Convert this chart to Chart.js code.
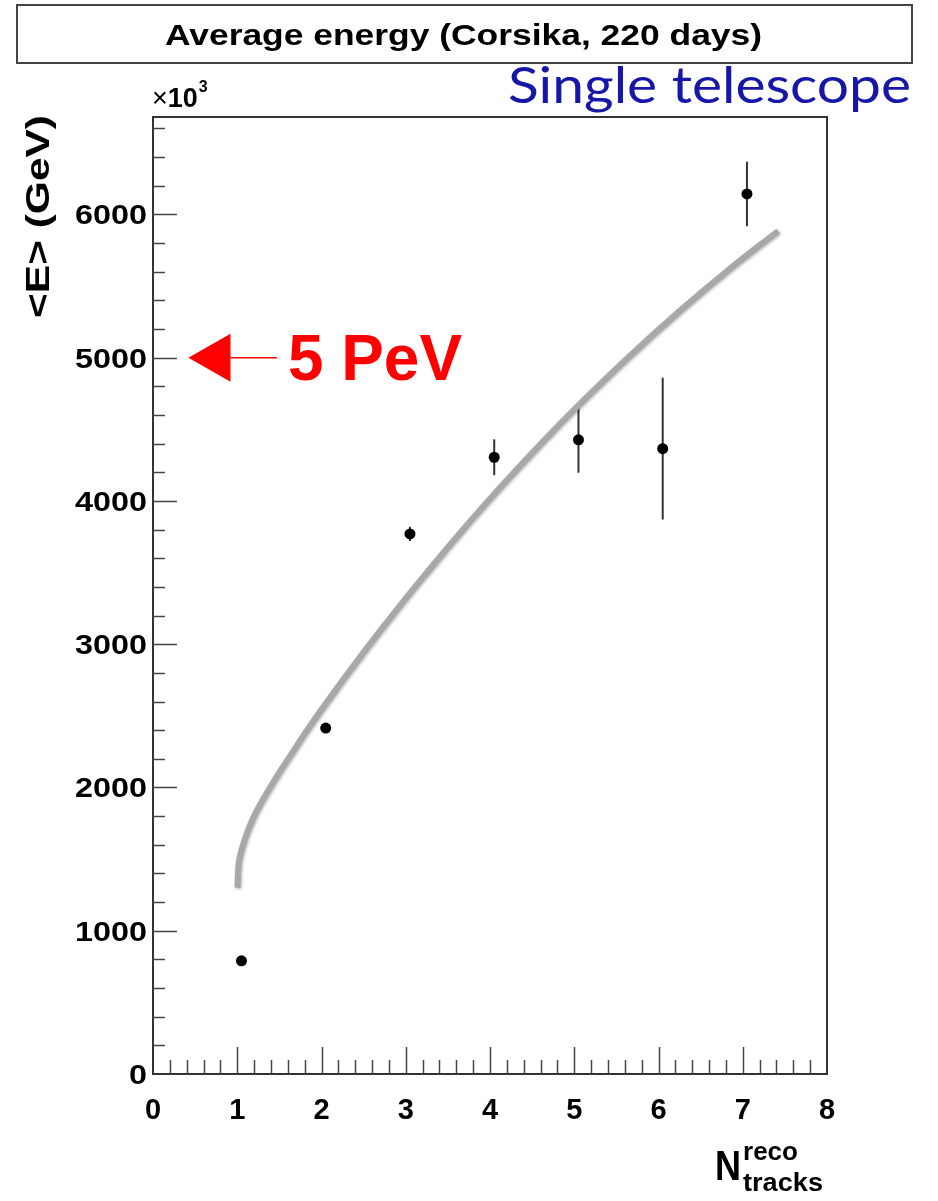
<!DOCTYPE html>
<html>
<head>
<meta charset="utf-8">
<script src="https://cdn.jsdelivr.net/npm/chart.js@4.4.1/dist/chart.umd.min.js"></script>
<style>
    html, body { margin: 0; padding: 0; background: #fff; }
    #wrap { width: 938px; height: 1201px; }
</style>
</head>
<body>
<div id="wrap"><canvas id="energyChart" width="938" height="1201"></canvas></div>
<script>
// Mean energy per number of reconstructed tracks (points with error bars)
const trackCounts = [1.05, 2.05, 3.05, 4.05, 5.05, 6.05, 7.05];
const meanEnergy = [790, 2415, 3770, 4305, 4427, 4365, 6143];
const energyErr = [0, 20, 50, 125, 230, 495, 225];

// Grey fit curve
const curveX = [1.003, 1.02, 1.08, 1.2, 1.4, 1.65, 1.9, 2.2, 2.5, 2.8, 3.13, 3.6, 4.08, 4.6, 5.07, 5.65, 6.25, 6.85, 7.42];
const curveY = [1300, 1480, 1620, 1800, 2010, 2240, 2460, 2706, 2943, 3171, 3414, 3745, 4067, 4397, 4679, 5007, 5325, 5622, 5884];

// Axis ranges, tick labels and the "5 PeV" marker
const xRange = [0, 8];
const yRange = [0, 6680];
const yTickLabels = [0, 1000, 2000, 3000, 4000, 5000, 6000];
const markerEnergy = 5000;
const markerTipX = 0.42;
const markerBaseX = 0.92;
const markerLineEndX = 1.47;

const FONT = "'Liberation Sans', Arial, sans-serif";

// draw text squeezed/stretched to a target width
function fitText(ctx, text, x, y, width, font, color) {
    ctx.save();
    ctx.font = font;
    ctx.fillStyle = color;
    ctx.textAlign = "left";
    ctx.textBaseline = "alphabetic";
    const w = ctx.measureText(text).width;
    ctx.translate(x, y);
    ctx.scale(width / w, 1);
    ctx.fillText(text, 0, 0);
    ctx.restore();
}

const decorPlugin = {
    id: "decor",
    beforeDatasetDraw(chart, args) {
        if (args.index === 1) {
            chart.ctx.save();
            chart.ctx.shadowColor = "rgba(0,0,0,0.3)";
            chart.ctx.shadowBlur = 3;
            chart.ctx.shadowOffsetX = 1;
            chart.ctx.shadowOffsetY = 1;
        }
    },
    afterDatasetDraw(chart, args) {
        if (args.index === 1) chart.ctx.restore();
    },
    beforeDatasetsDraw(chart) {
        // error bars
        const ctx = chart.ctx;
        const xs = chart.scales.x, ys = chart.scales.y;
        ctx.save();
        ctx.strokeStyle = "#333";
        ctx.lineWidth = 2;
        trackCounts.forEach((n, i) => {
            if (!energyErr[i]) return;
            const px = xs.getPixelForValue(n);
            ctx.beginPath();
            ctx.moveTo(px, ys.getPixelForValue(meanEnergy[i] - energyErr[i]));
            ctx.lineTo(px, ys.getPixelForValue(meanEnergy[i] + energyErr[i]));
            ctx.stroke();
        });
        ctx.restore();
    },
    afterDraw(chart) {
        const ctx = chart.ctx;
        const area = chart.chartArea;
        const xs = chart.scales.x, ys = chart.scales.y;

        ctx.save();
        // frame
        ctx.strokeStyle = "#333";
        ctx.lineWidth = 2;
        ctx.strokeRect(area.left, area.top, area.right - area.left, area.bottom - area.top);

        // ticks, pointing into the frame
        ctx.lineWidth = 1.5;
        ctx.strokeStyle = "#444";
        for (let v = 200; v <= yRange[1]; v += 200) {
            const len = v % 1000 === 0 ? 24 : 12;
            const py = Math.round(ys.getPixelForValue(v)) + 0.5;
            ctx.beginPath();
            ctx.moveTo(area.left, py);
            ctx.lineTo(area.left + len, py);
            ctx.stroke();
        }
        for (let i = 1; i < 40; i++) {
            const len = i % 5 === 0 ? 27 : 14;
            const px = Math.round(xs.getPixelForValue(i / 5)) + 0.5;
            ctx.beginPath();
            ctx.moveTo(px, area.bottom);
            ctx.lineTo(px, area.bottom - len);
            ctx.stroke();
        }

        // y tick labels
        yTickLabels.forEach(v => {
            const s = String(v);
            const w = 18 * s.length;
            fitText(ctx, s, area.left - 6 - w, ys.getPixelForValue(v) + 10, w, "bold 28px " + FONT, "#000");
        });

        // title box
        ctx.strokeStyle = "#444";
        ctx.lineWidth = 2;
        ctx.strokeRect(17, 5, 895, 58);
        fitText(ctx, "Average energy (Corsika, 220 days)", 165, 45, 597, "bold 30px " + FONT, "#000");

        // blue label
        fitText(ctx, "Single telescope", 508, 103, 403, "50px Lato, 'Open Sans', sans-serif", "#1616a8");

        // x10^3
        ctx.fillStyle = "#000";
        ctx.font = "27px " + FONT;
        ctx.fillText("\u00d7", 152, 107);
        let cx = 152 + ctx.measureText("\u00d7").width;
        ctx.font = "bold 27px " + FONT;
        ctx.fillText("10", cx, 107);
        cx += ctx.measureText("10").width;
        ctx.font = "bold 16px " + FONT;
        ctx.fillText("3", cx + 1, 92);

        // y axis title
        ctx.save();
        ctx.translate(49, 318);
        ctx.rotate(-Math.PI / 2);
        fitText(ctx, "<E> (GeV)", 0, 0, 203, "bold 34px " + FONT, "#000");
        ctx.restore();

        // x axis title
        fitText(ctx, "N", 715, 1180, 26, "bold 42px " + FONT, "#000");
        fitText(ctx, "reco", 743, 1160, 55, "bold 26px " + FONT, "#000");
        fitText(ctx, "tracks", 743, 1191, 80, "bold 26px " + FONT, "#000");

        // 5 PeV marker
        const my = ys.getPixelForValue(markerEnergy);
        const tip = xs.getPixelForValue(markerTipX);
        const base = xs.getPixelForValue(markerBaseX);
        ctx.fillStyle = "#ff0000";
        ctx.strokeStyle = "#ff0000";
        ctx.beginPath();
        ctx.moveTo(tip, my);
        ctx.lineTo(base, my - 24);
        ctx.lineTo(base, my + 24);
        ctx.closePath();
        ctx.fill();
        ctx.lineWidth = 1.5;
        ctx.beginPath();
        ctx.moveTo(base, my);
        ctx.lineTo(xs.getPixelForValue(markerLineEndX), my);
        ctx.stroke();
        fitText(ctx, "5 PeV", 288, 380, 174, "bold 64px " + FONT, "#ff0000");

        ctx.restore();
    }
};

const ctx = document.getElementById("energyChart").getContext("2d");
new Chart(ctx, {
    type: "scatter",
    data: {
        datasets: [
            {
                label: "<E>",
                data: trackCounts.map((n, i) => ({ x: n, y: meanEnergy[i] })),
                backgroundColor: "#000",
                borderWidth: 0,
                pointRadius: 5.5,
                order: 0
            },
            {
                label: "fit",
                data: curveX.map((x, i) => ({ x: x, y: curveY[i] })),
                showLine: true,
                borderColor: "#a8a8a8",
                borderWidth: 6,
                borderCapStyle: "butt",
                tension: 0.4,
                pointRadius: 0,
                order: 1
            }
        ]
    },
    options: {
        responsive: false,
        animation: false,
        devicePixelRatio: 1,
        layout: { padding: { top: 117, right: 111, left: 0, bottom: 0 } },
        plugins: {
            legend: { display: false },
            tooltip: { enabled: false }
        },
        scales: {
            x: {
                type: "linear",
                min: xRange[0],
                max: xRange[1],
                grid: { display: false },
                border: { display: false },
                ticks: {
                    stepSize: 1,
                    color: "#000",
                    padding: 12,
                    font: { family: FONT, weight: "bold", size: 29 }
                },
                afterFit: scale => { scale.height = 127; }
            },
            y: {
                min: yRange[0],
                max: yRange[1],
                grid: { display: false },
                border: { display: false },
                ticks: { display: false },
                afterFit: scale => { scale.width = 153; }
            }
        }
    },
    plugins: [decorPlugin]
});
</script>
</body>
</html>
